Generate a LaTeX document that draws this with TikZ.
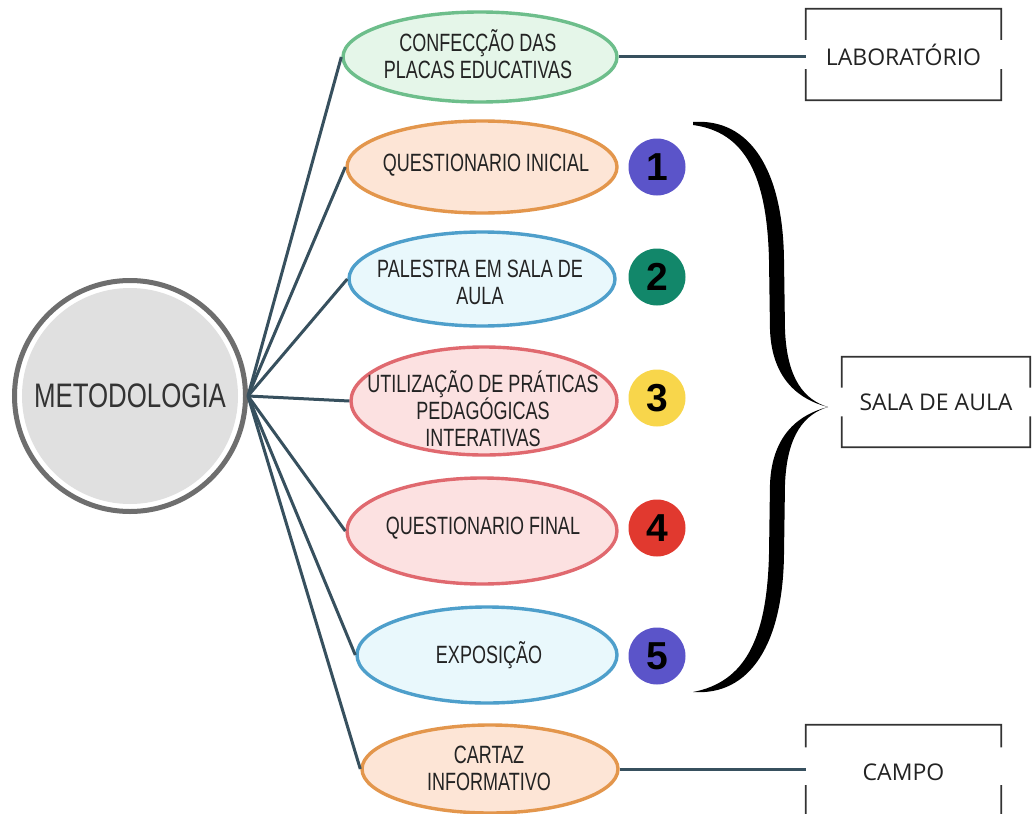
\documentclass[tikz,border=0pt]{standalone}
\usepackage{fontspec}
\setmainfont{Liberation Sans}
\newfontfamily\condf[FakeStretch=0.72]{Liberation Sans}
\newfontfamily\metf[FakeStretch=0.76]{Liberation Sans}
\newfontfamily\boxf{Open Sans}
\usetikzlibrary{shapes.geometric,calc}
\definecolor{greenE}{HTML}{6DBE8B}
\definecolor{greenF}{HTML}{E5F6E9}
\definecolor{orangeE}{HTML}{E3964C}
\definecolor{orangeF}{HTML}{FDE5D6}
\definecolor{blueE}{HTML}{4E9FCB}
\definecolor{blueF}{HTML}{E9F8FC}
\definecolor{pinkE}{HTML}{E0696F}
\definecolor{pinkF}{HTML}{FCE1E1}
\definecolor{connC}{HTML}{37505E}
\definecolor{numA}{HTML}{5B54C9}
\definecolor{numB}{HTML}{12876A}
\definecolor{numC}{HTML}{F8D64B}
\definecolor{numD}{HTML}{E1392F}
\definecolor{ringC}{HTML}{6E6E6E}
\definecolor{metF}{HTML}{E0E0E0}
\definecolor{metT}{HTML}{333333}
\definecolor{boxC}{HTML}{333333}
\definecolor{txtC}{HTML}{232323}
\begin{document}
\begin{tikzpicture}[x=1bp,y=-1bp]
\tikzset{
 ellbase/.style={ellipse, inner sep=0pt, line width=3.4bp},
 egreen/.style={ellbase, draw=greenE, fill=greenF},
 eorange/.style={ellbase, draw=orangeE, fill=orangeF},
 eblue/.style={ellbase, draw=blueE, fill=blueF},
 epink/.style={ellbase, draw=pinkE, fill=pinkF},
 etext/.style={font=\condf\fontsize{25bp}{27bp}\selectfont, text=txtC, align=center, inner sep=0pt},
 num/.style={circle, minimum size=57bp, inner sep=0pt, font=\bfseries\fontsize{39bp}{39bp}\selectfont, text=black},
 conn/.style={draw=connC, line width=3bp},
 boxt/.style={font=\boxf\fontsize{23bp}{25bp}\selectfont, text=txtC, inner sep=0pt},
 boxline/.style={draw=boxC, line width=1.8bp},
}
\useasboundingbox (0,0) rectangle (1032,814);
\fill[white] (0,0) rectangle (1032,814);

% ellipses
\node[egreen, minimum width=274bp, minimum height=90bp] (e1) at (480,57) {};
\node[eorange, minimum width=270bp, minimum height=92bp] (e2) at (482,167) {};
\node[eblue, minimum width=266bp, minimum height=94bp] (e3) at (482,279) {};
\node[epink, minimum width=266bp, minimum height=108bp] (e4) at (484,401) {};
\node[epink, minimum width=270bp, minimum height=106bp] (e5) at (482,531) {};
\node[eblue, minimum width=260bp, minimum height=96bp] (e6) at (487,655) {};
\node[eorange, minimum width=256bp, minimum height=88bp] (e7) at (490,769) {};

\node[etext] (t1) at (478,54) {CONFECÇÃO DAS\\PLACAS EDUCATIVAS};
\node[etext] (t2) at (486,165) {QUESTIONARIO INICIAL};
\node[etext] (t3) at (480,282) {PALESTRA EM SALA DE\\AULA};
\node[etext] (t4) at (483,409) {UTILIZAÇÃO DE PRÁTICAS\\PEDAGÓGICAS\\INTERATIVAS};
\node[etext] (t5) at (483,528) {QUESTIONARIO FINAL};
\node[etext] (t6) at (489,655) {EXPOSIÇÃO};
\node[etext] (t7) at (489,768) {CARTAZ\\INFORMATIVO};

% numbers
\node[num, fill=numA] (n1) at (657,167) {1};
\node[num, fill=numB] (n2) at (657,277) {2};
\node[num, fill=numC] (n3) at (657,398) {3};
\node[num, fill=numD] (n4) at (657,528) {4};
\node[num, fill=numA] (n5) at (657,656) {5};

% central circle
\node[circle, draw=ringC, line width=5bp, fill=white, minimum size=231bp, inner sep=0pt,
  path picture={\fill[metF] (path picture bounding box.center) circle[radius=108bp];},
  font=\metf\fontsize{34bp}{34bp}\selectfont, text=metT] (m) at (130,396) {METODOLOGIA};

% connectors
\foreach \e in {e1,e2,e3,e4,e5,e6,e7}{
  \draw[conn] (m.east) -- (\e.west);
}

% boxes
\node[boxt, minimum width=195bp, minimum height=91bp] (lab) at (903.5,54.5) {LABORATÓRIO};
\node[boxt, minimum width=188bp, minimum height=90bp] (sala) at (936,402) {SALA DE AULA};
\node[boxt, minimum width=195bp, minimum height=94bp] (campo) at (903.5,772) {CAMPO};

\draw[boxline] ($(lab.north west)!0.34!(lab.south west)$) -- (lab.north west) -- (lab.north east) -- ($(lab.north east)!0.34!(lab.south east)$);
\draw[boxline] ($(lab.north west)!0.66!(lab.south west)$) -- (lab.south west) -- (lab.south east) -- ($(lab.north east)!0.66!(lab.south east)$);
\draw[boxline] ($(sala.north west)!0.34!(sala.south west)$) -- (sala.north west) -- (sala.north east) -- ($(sala.north east)!0.34!(sala.south east)$);
\draw[boxline] ($(sala.north west)!0.66!(sala.south west)$) -- (sala.south west) -- (sala.south east) -- ($(sala.north east)!0.66!(sala.south east)$);
\draw[boxline] ($(campo.north west)!0.24!(campo.south west)$) -- (campo.north west) -- (campo.north east) -- ($(campo.north east)!0.24!(campo.south east)$);
\draw[boxline] ($(campo.north west)!0.64!(campo.south west)$) -- (campo.south west) -- (campo.south east) -- ($(campo.north east)!0.64!(campo.south east)$);

\draw[conn] (e1.east) -- (e1.east -| lab.west);
\draw[conn] (e7.east) -- (e7.east -| campo.west);

% brace
\fill[black] (693,122) .. controls (750,118) and (783,170) .. (784,260)
  -- (785,330) .. controls (787,380) and (805,400) .. (828,407)
  .. controls (805,414) and (787,434) .. (785,484)
  -- (784,554) .. controls (783,644) and (750,696) .. (693,692)
  .. controls (745,682) and (767,639) .. (769,554)
  -- (770,484) .. controls (772,434) and (800,414) .. (828,407)
  .. controls (800,400) and (772,380) .. (770,330)
  -- (769,260) .. controls (767,175) and (745,132) .. (693,125) -- cycle;
\end{tikzpicture}
\end{document}
